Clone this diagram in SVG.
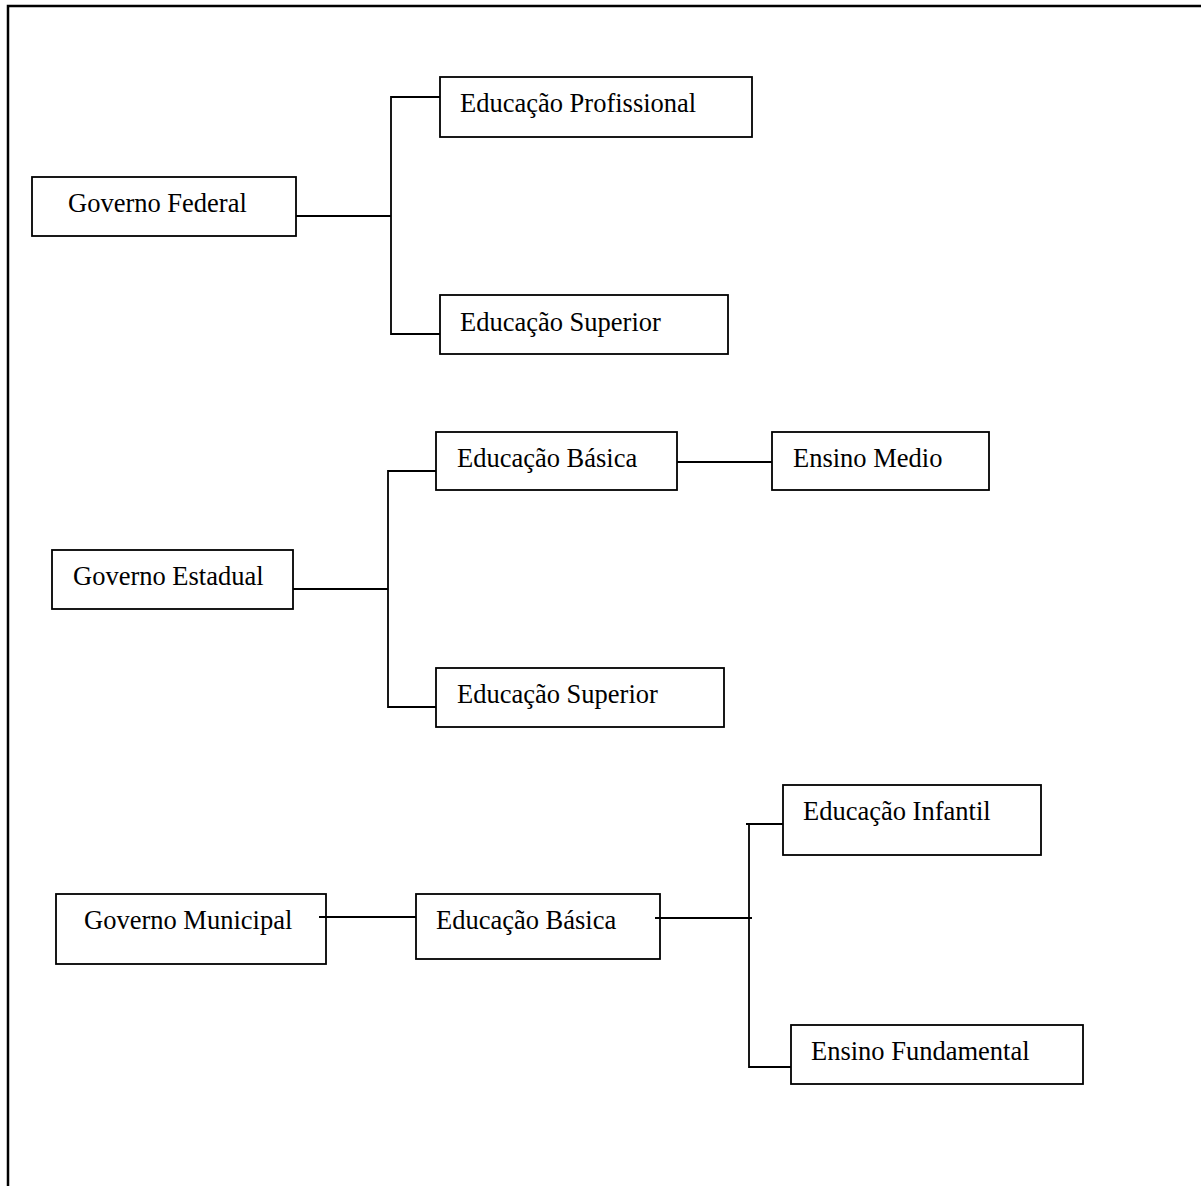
<svg xmlns="http://www.w3.org/2000/svg" width="1201" height="1186" viewBox="0 0 1201 1186">
<style>
.box{fill:#fff;stroke:#000;stroke-width:1.8}
.lbl{font-family:"Liberation Serif","Times New Roman",serif;font-size:26.5px;fill:#000}
.conn path{fill:none;stroke:#000;stroke-width:1.8}
.frame{fill:none;stroke:#000;stroke-width:2.5}
</style>
<rect width="1201" height="1186" fill="#fff"/>
<path class="frame" d="M8,1186 V6 H1201"/>
<g id="governo-federal"><rect class="box" x="32" y="177" width="264" height="59"/><text class="lbl" x="68" y="212">Governo Federal</text></g>
<g id="ed-profissional"><rect class="box" x="440" y="77" width="312" height="60"/><text class="lbl" x="460" y="112">Educação Profissional</text></g>
<g id="ed-superior-federal"><rect class="box" x="440" y="295" width="288" height="59"/><text class="lbl" x="460" y="331">Educação Superior</text></g>
<g id="governo-estadual"><rect class="box" x="52" y="550" width="241" height="59"/><text class="lbl" x="73" y="585">Governo Estadual</text></g>
<g id="ed-basica-estadual"><rect class="box" x="436" y="432" width="241" height="58"/><text class="lbl" x="457" y="467">Educação Básica</text></g>
<g id="ensino-medio"><rect class="box" x="772" y="432" width="217" height="58"/><text class="lbl" x="793" y="467">Ensino Medio</text></g>
<g id="ed-superior-estadual"><rect class="box" x="436" y="668" width="288" height="59"/><text class="lbl" x="457" y="703">Educação Superior</text></g>
<g id="governo-municipal"><rect class="box" x="56" y="894" width="270" height="70"/><text class="lbl" x="84" y="929">Governo Municipal</text></g>
<g id="ed-basica-municipal"><rect class="box" x="416" y="894" width="244" height="65"/><text class="lbl" x="436" y="929">Educação Básica</text></g>
<g id="ed-infantil"><rect class="box" x="783" y="785" width="258" height="70"/><text class="lbl" x="803" y="820">Educação Infantil</text></g>
<g id="ensino-fundamental"><rect class="box" x="791" y="1025" width="292" height="59"/><text class="lbl" x="811" y="1060">Ensino Fundamental</text></g>
<g class="conn">
<path d="M296,216 H391"/>
<path d="M440,97 H391 V334 H440"/>
<path d="M293,589 H388"/>
<path d="M436,471 H388 V707 H436"/>
<path d="M677,462 H772"/>
<path d="M319,917 H416"/>
<path d="M655,918 H752"/>
<path d="M746,824 H783"/>
<path d="M749,824 V1067 H791"/>
</g>
</svg>
